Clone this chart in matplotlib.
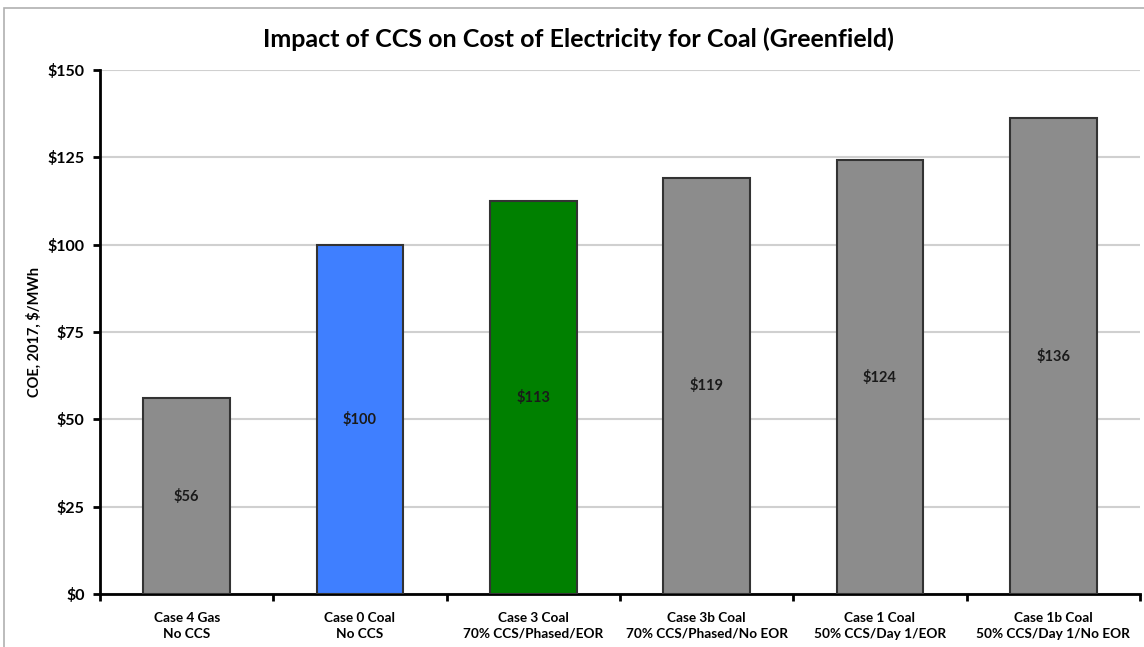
import matplotlib
matplotlib.use("Agg")
import matplotlib.pyplot as plt
from matplotlib.patches import Rectangle
from matplotlib.ticker import FixedLocator

categories = ["Case 4 Gas\nNo CCS", "Case 0 Coal\nNo CCS", "Case 3 Coal\n70% CCS/Phased/EOR",
              "Case 3b Coal\n70% CCS/Phased/No EOR", "Case 1 Coal\n50% CCS/Day 1/EOR",
              "Case 1b Coal\n50% CCS/Day 1/No EOR"]
values = [56, 100, 112.6, 119.2, 124.1, 136.2]
colors = ["#8c8c8c", "#3f7fff", "#008000", "#8c8c8c", "#8c8c8c", "#8c8c8c"]
yticks = [0, 25, 50, 75, 100, 125, 150]
ytick_labels = ["$0", "$25", "$50", "$75", "$100", "$125", "$150"]

plt.rcParams['font.family'] = ['Lato', 'DejaVu Sans']
plt.rcParams['font.weight'] = 'bold'

fig = plt.figure(figsize=(11.44, 6.47), dpi=100)
ax = fig.add_axes([0.0874, 0.0819, 0.9091, 0.8099])

x = list(range(len(categories)))
ax.bar(x, values, width=0.5, color=colors, edgecolor="#333333", linewidth=1.5, zorder=3)
for xi, v in zip(x, values):
    ax.text(xi, v / 2, f"${v:.0f}", ha="center", va="center", fontsize=10.5, fontweight="bold", color="#1a1a1a", zorder=4)

ax.set_xlim(-0.5, len(categories) - 0.5)
ax.set_ylim(0, 150)
ax.set_yticks(yticks)
ax.set_yticklabels(ytick_labels, fontsize=11.5, fontweight="bold")
ax.yaxis.grid(True, color="#d0d0d0", linewidth=1.5, zorder=0)
ax.set_axisbelow(True)

ax.xaxis.set_major_locator(FixedLocator([i - 0.5 for i in range(len(categories) + 1)]))
ax.xaxis.set_major_formatter(plt.NullFormatter())
ax.xaxis.set_minor_locator(FixedLocator(x))
ax.set_xticklabels(categories, minor=True, fontsize=9.8, fontweight="bold", linespacing=1.35)
ax.tick_params(axis="x", which="minor", length=0, pad=13)
ax.tick_params(axis="x", which="major", length=5, width=2, direction="out")
ax.tick_params(axis="y", length=5, width=2, direction="out", pad=6)

for s in ["top", "right"]:
    ax.spines[s].set_visible(False)
for s in ["left", "bottom"]:
    ax.spines[s].set_linewidth(2)
    ax.spines[s].set_color("black")

ax.set_ylabel("COE, 2017, $/MWh", fontsize=10.5, fontweight="bold", labelpad=4)
fig.text(0.506, 0.94, "Impact of CCS on Cost of Electricity for Coal (Greenfield)", ha="center", va="center",
         fontsize=18, fontweight="bold")

fig.patches.append(Rectangle((0.0035, -0.01), 1.2, 0.997, transform=fig.transFigure, fill=False,
                             edgecolor="#b0b0b0", linewidth=1.2))

fig.savefig("out.png", dpi=100)
